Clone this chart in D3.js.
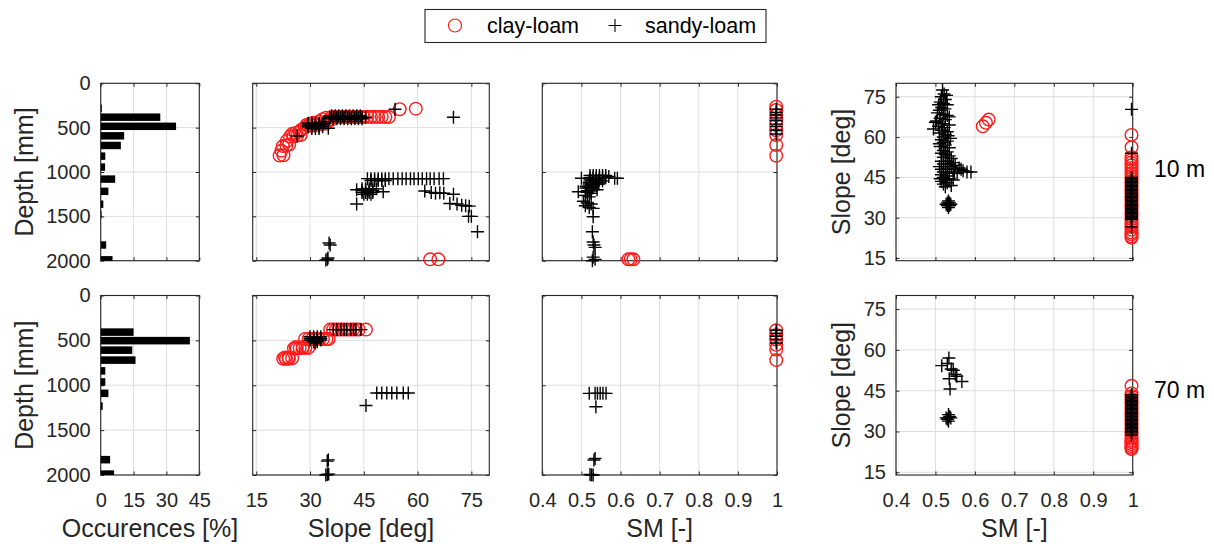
<!DOCTYPE html>
<html>
<head>
<meta charset="utf-8">
<script src="https://cdn.jsdelivr.net/npm/d3@7"></script>
<style>
  body { margin: 0; background: #fff; }
  svg { display: block; font-family: "Liberation Sans", Arial, Helvetica, sans-serif; }
</style>
</head>
<body>
<svg id="chart"></svg>
<script>
// ---- data ----
// histogram of depth occurrences [%], one row per resolution
const histDepth10 = [282, 382, 485, 592, 701, 821, 945, 1080, 1218, 1363, 1483, 1823, 1990];
const histOcc10   = [0.5, 27.2, 34.4, 10.7, 9.2, 2.1, 2.0, 6.6, 3.5, 1.2, 0.4, 2.5, 5.4];
const histDepth70 = [408, 503, 609, 720, 840, 963, 1090, 1232, 1829, 1990];
const histOcc70   = [15, 40.7, 14.4, 15.9, 2.1, 2.1, 3.5, 0.9, 4.3, 6.1];

// slope [deg] vs depth [mm]
const slopeDepthClay10 = [[21.5,815],[22.6,812],[22,760],[22.4,708],[23.4,700],[24.2,690],[23.5,650],[24.4,602],[25.4,596],[26.4,590],[27.4,584],[25,570],[26,560],[27,545],[27.5,525],[28.5,500],[29.5,482],[30.5,476],[31.5,470],[33,462],[34.5,455],
  [29,470],[30,455],[31,445],[32.5,432],[33.5,405],[34.5,388],[35,420],[36,410],[36,380],[37,380],[38,380],[39,380],[40,380],[41,380],[42,380],[43,380],[44,380],[45,380],[46,378],[47,380],[48,378],[49,380],[50,378],[51,380],[52,380],[55,292],[59.5,286],[63.5,1985],[65.8,1985]];
const slopeDepthSandy10 = [[26.4,594],[29.5,450],[30.5,450],[31.5,450],[32.5,450],[33.5,450],[29.5,470],[30.5,470],[31.5,470],[32.5,470],[33.5,470],[29.5,490],[30.5,490],[31.5,490],[32.5,490],[33.5,490],[30.5,510],[31.5,510],[32.5,510],[35.1,507],[34,430],
  [35.5,400],[36.5,400],[37.5,400],[38.5,400],[39.5,400],[40.5,400],[41.5,400],[42.5,400],[43.5,400],[44.5,400],
  [35.5,382],[36.5,382],[37.5,382],[38.5,382],[39.5,382],[40.5,382],[41.5,382],[42.5,382],[43.5,382],[44.5,382],
  [36,365],[37,365],[38,365],[39,365],[40,365],[41,365],[42,365],[43,365],[44,365],[45.5,385],
  [53.7,293],[70,383],
  [46,1075],[47,1075],[48,1075],[49,1075],[50,1075],[51,1075],[52,1075],[53.2,1075],[54.5,1075],[55.7,1075],[56.8,1075],[58,1075],[59,1075],[60.2,1075],[61.3,1075],[62.5,1075],[63.5,1075],[64.6,1075],[66,1075],[67.2,1075],
  [47,1095],[48,1095],[49,1095],[50,1095],[51,1095],
  [43,1200],[44.5,1190],[45.5,1190],[46.5,1190],[47.5,1190],[48.5,1190],[44.5,1210],[45.5,1210],[46.5,1210],[47.5,1210],[44.5,1230],[45.5,1230],[46.5,1230],[47.5,1230],[45,1250],[46,1250],[47,1250],[50.4,1222],
  [43,1361],[62,1215],[63.8,1230],[65,1240],[66.2,1235],[67.3,1240],[70,1250],
  [69,1355],[71,1360],[72.3,1375],[73.4,1380],[74.4,1385],[74.2,1500],[75,1500],[76.7,1673],
  [35.6,1823],[35.3,1800],[34.4,1993],[34.8,1985],[35,1970]];
const slopeDepthClay70 = [[22.5,704],[23.3,704],[24.1,704],[25,700],[23,690],[24,690],[25.5,590],[26.3,590],[27.1,585],[27.9,585],[28.7,584],[29.5,584],[26,575],[28,575],
  [28.6,484],[29.6,484],[30.6,484],[31.6,484],[32.6,484],[33.6,484],[34.6,484],[35.2,484],
  [35.6,380],[36.4,380],[37.2,380],[38,380],[38.8,380],[39.6,380],[40.4,380],[41.2,380],[42,380],[42.8,380],[43.6,380],[45.6,380]];
const slopeDepthSandy70 = [[30,460],[31,460],[32,460],[33,460],[30,478],[31,478],[32,478],[33,478],[30,496],[31,496],[32,496],[33,496],[31,515],[32,515],[31.5,530],
  [36.5,380],[37.5,380],[38.6,380],[39.5,380],[40.2,380],[41.4,380],[42.2,380],[42.8,380],[44.2,380],
  [48.6,1087],[50,1087],[51.4,1087],[52.8,1087],[54.2,1087],[56,1087],[57.4,1087],
  [45.6,1226],[35.1,1832],[34.8,1845],[34.4,2000],[34.8,1995],[35.2,1990]];

// SM [-] vs depth [mm]
const smDepthClay10 = [[0.998,264],[0.998,300],[0.998,357],[0.998,420],[0.998,470],[0.998,530],[0.998,583],[0.998,695],[0.998,816],[0.62,1985],[0.626,1985],[0.633,1985]];
const smDepthSandy10 = [[0.998,293],[0.998,330],[0.998,357],[0.998,390],[0.998,421],[0.998,460],[0.998,489],[0.998,530],[0.998,571],
  [0.522,1040],[0.53,1040],[0.538,1040],[0.546,1040],[0.554,1040],[0.562,1040],[0.57,1050],[0.585,1070],[0.592,1070],[0.5,1071],
  [0.522,1065],[0.53,1065],[0.538,1065],[0.546,1065],[0.554,1065],[0.562,1065],
  [0.522,1090],[0.53,1090],[0.538,1090],[0.546,1090],[0.554,1100],[0.52,1115],[0.528,1115],[0.536,1115],[0.544,1115],
  [0.52,1135],[0.528,1135],[0.536,1135],[0.544,1135],
  [0.492,1222],[0.512,1160],[0.52,1160],[0.528,1160],[0.512,1180],[0.52,1180],[0.528,1180],[0.54,1200],[0.515,1210],[0.525,1215],[0.515,1230],[0.525,1240],[0.51,1265],[0.52,1280],
  [0.505,1330],[0.515,1350],[0.525,1360],[0.51,1380],[0.52,1400],[0.53,1410],[0.53,1504],[0.528,1673],
  [0.53,1790],[0.532,1823],[0.535,1850],[0.53,1960],[0.535,1985],[0.528,2000]];
const smDepthClay70 = [[0.998,387],[0.998,440],[0.998,490],[0.998,550],[0.998,601],[0.998,720]];
const smDepthSandy70 = [[0.998,387],[0.998,420],[0.998,454],[0.998,490],[0.998,530],
  [0.52,1090],[0.535,1090],[0.541,1090],[0.548,1090],[0.555,1090],[0.563,1090],[0.537,1240],
  [0.532,1833],[0.535,1815],[0.526,2000],[0.53,2000],[0.522,1995]];

// slope [deg] vs SM [-]
const smSlopeClay10 = [[0.62,64],[0.628,65.3],[0.635,66.5],
  [0.997,60.8],[0.997,56.2],[0.997,52.5],[0.997,51.5],[0.997,50.5],[0.997,49.5],[0.997,48.5],[0.997,47.5],[0.997,46.5],[0.997,45.5],[0.997,44.5],[0.997,43.5],[0.997,42.5],[0.997,41.5],[0.997,40.5],[0.997,39.5],[0.997,38.5],[0.997,37.5],[0.997,36.5],[0.997,35.5],[0.997,34.5],[0.997,33.5],[0.997,32.5],[0.997,31.5],[0.997,30.5],[0.997,29.5],[0.997,28.5],[0.997,27.5],[0.997,26.5],[0.997,25.5],[0.997,24.5],[0.997,23.8],[0.997,23],[0.997,22.5]];
const smSlopeSandy10 = [[0.997,70.3],[0.997,54],
  [0.997,45],[0.997,44.5],[0.997,44],[0.997,43.5],[0.997,43],[0.997,42.5],[0.997,42],[0.997,41.5],[0.997,41],[0.997,40.5],[0.997,40],[0.997,39.5],[0.997,39],[0.997,38.5],[0.997,38],[0.997,37.5],[0.997,37],[0.997,36.5],[0.997,36],[0.997,35.5],[0.997,35],[0.997,34.5],[0.997,34],[0.997,33.5],[0.997,33],[0.997,32.5],[0.997,32],[0.997,31.5],[0.997,31],[0.997,30.5],[0.997,30],[0.997,29.5],[0.997,29.3],[0.997,26.6],
  [0.518,77.5],[0.522,76],[0.515,75],[0.525,74],[0.512,73],[0.52,72.5],[0.53,72],[0.516,71],[0.524,70.5],[0.51,70],[0.528,75.5],[0.508,72],
  [0.505,69],[0.52,68.5],[0.53,68],[0.512,67],[0.525,66.5],[0.5,65.5],[0.518,65],[0.535,64.5],[0.508,64],[0.522,63.5],[0.495,63],[0.515,62.5],[0.53,62],[0.51,61.5],[0.525,61],[0.52,60],[0.535,67.5],[0.503,66],[0.532,60.5],
  [0.515,59],[0.53,58.5],[0.52,58],[0.525,57],[0.512,56.5],[0.535,56],[0.52,55],[0.53,54.5],[0.515,54],[0.525,53.5],[0.535,53],[0.52,52.5],[0.54,52],[0.51,57.5],[0.538,59.5],
  [0.515,51],[0.53,51],[0.545,50.5],[0.52,50],[0.535,50],[0.55,49.5],[0.51,49],[0.525,49],[0.54,49],[0.56,48.5],[0.515,48],[0.53,48],[0.545,48],[0.57,47.5],[0.59,47],[0.58,47],[0.52,47],[0.535,46.5],[0.555,46.5],[0.515,46],[0.53,45.5],[0.565,48],[0.548,47],
  [0.52,45],[0.535,44.5],[0.525,44],[0.515,43.5],[0.53,43],[0.52,42.5],[0.54,42],[0.525,41.5],[0.512,44.5],[0.545,44],
  [0.527,35],[0.533,35],[0.539,35],[0.533,33.8],[0.533,36.2],[0.53,34.5],[0.536,35.5],[0.53,35.5],[0.536,34.5]];
const smSlopeClay70 = [[0.997,46.8],[0.997,44],[0.997,43],[0.997,42],[0.997,41],[0.997,40],[0.997,39],[0.997,38],[0.997,37],[0.997,36],[0.997,35],[0.997,34],[0.997,33],[0.997,32],[0.997,31],[0.997,30],[0.997,29],[0.997,28],[0.997,27.3],[0.997,26.6],[0.997,26],[0.997,25.3],[0.997,24.6],[0.997,24],[0.997,23.5]];
const smSlopeSandy70 = [[0.997,43.5],[0.997,43],[0.997,42.5],[0.997,42],[0.997,41.5],[0.997,41],[0.997,40.5],[0.997,40],[0.997,39.5],[0.997,39],[0.997,38.5],[0.997,38],[0.997,37.5],[0.997,37],[0.997,36.5],[0.997,36],[0.997,35.5],[0.997,35],[0.997,34.5],[0.997,34],[0.997,33.5],[0.997,33],[0.997,32.5],[0.997,32],[0.997,31.5],[0.997,31],[0.997,30.5],[0.997,30],[0.997,29.5],[0.997,28.7],
  [0.534,57],[0.516,54.2],[0.545,52.5],[0.554,50.3],[0.535,49.4],[0.567,48.4],[0.537,45.6],[0.53,55],[0.55,51],[0.54,53],
  [0.527,35],[0.533,35],[0.539,35],[0.533,33.8],[0.533,36.2],[0.53,34.5],[0.536,35.5]];

// axis ticks
const depthTicks = [0, 500, 1000, 1500, 2000];
const depthTicksSM = [0, 1000, 2000];
const occTicks = [0, 15, 30, 45];
const slopeTicks = [15, 30, 45, 60, 75];
const smTicks = [0.4, 0.5, 0.6, 0.7, 0.8, 0.9, 1];
const seriesNames = ["clay-loam", "sandy-loam"];
const rowLabels = ["10 m", "70 m"];

// ---- layout ----
const width = 1214, height = 544;
const rows = [[83.3, 260.7], [295.5, 475]];
const cols = { hist: [100.7, 199.3], slope: [252.7, 489.3], sm: [542.3, 777], smSlope: [896, 1132.7] };
const textColor = "#262626";
const fontTick = 20, fontLabel = 25;

const svg = d3.select("#chart").attr("width", width).attr("height", height);

const fmtSM = d => d === 1 ? "1" : d3.format(".1f")(d);
const plusPath = "M-6.5,0H6.5M0,-6.5V6.5";

// build one box-style axes with grid and inner ticks
function makeAxes(col, row, xDomain, yDomain, xTicks, yTicks, showX, showY, xFmt) {
  const [x0, x1] = col, [y0, y1] = row;
  const x = d3.scaleLinear().domain(xDomain).range([x0, x1]);
  const y = d3.scaleLinear().domain(yDomain).range([y0, y1]);
  const g = svg.append("g");

  // grid
  g.append("g").selectAll("line").data(xTicks).join("line")
    .attr("x1", d => x(d)).attr("x2", d => x(d)).attr("y1", y0).attr("y2", y1)
    .attr("stroke", "#dedede").attr("stroke-width", 1);
  g.append("g").selectAll("line").data(yTicks).join("line")
    .attr("y1", d => y(d)).attr("y2", d => y(d)).attr("x1", x0).attr("x2", x1)
    .attr("stroke", "#dedede").attr("stroke-width", 1);

  // axes with inward ticks
  const ax = [
    [d3.axisBottom(x).tickValues(xTicks).tickFormat(showX ? xFmt : () => ""), `translate(0,${y1})`, 18],
    [d3.axisTop(x).tickValues(xTicks).tickFormat(() => ""), `translate(0,${y0})`, 0],
    [d3.axisLeft(y).tickValues(yTicks).tickFormat(showY ? d3.format("d") : () => ""), `translate(${x0},0)`, 10],
    [d3.axisRight(y).tickValues(yTicks).tickFormat(() => ""), `translate(${x1},0)`, 0]
  ];
  ax.forEach(([a, tr, pad]) => {
    const s = g.append("g").attr("transform", tr)
      .call(a.tickSizeInner(-3.5).tickSizeOuter(0).tickPadding(pad));
    s.select(".domain").remove();
    s.selectAll("line").attr("stroke", textColor);
    s.selectAll("text").attr("font-size", fontTick).attr("fill", textColor)
      .attr("font-family", "Liberation Sans, Arial, sans-serif");
  });

  g.append("rect").attr("x", x0).attr("y", y0).attr("width", x1 - x0).attr("height", y1 - y0)
    .attr("fill", "none").attr("stroke", textColor).attr("stroke-width", 1.1);
  return { g, x, y };
}

function drawClay(a, data) {
  a.g.append("g").selectAll("circle").data(data).join("circle")
    .attr("cx", d => a.x(d[0])).attr("cy", d => a.y(d[1])).attr("r", 6.3)
    .attr("fill", "none").attr("stroke", "#ff1a1a").attr("stroke-width", 1.4);
}
function drawSandy(a, data) {
  a.g.append("g").selectAll("path").data(data).join("path")
    .attr("d", plusPath).attr("transform", d => `translate(${a.x(d[0])},${a.y(d[1])})`)
    .attr("fill", "none").attr("stroke", "#000").attr("stroke-width", 1.4);
}

const histData = [[histDepth10, histOcc10], [histDepth70, histOcc70]];
const slopeData = [[slopeDepthClay10, slopeDepthSandy10], [slopeDepthClay70, slopeDepthSandy70]];
const smData = [[smDepthClay10, smDepthSandy10], [smDepthClay70, smDepthSandy70]];
const smSlopeData = [[smSlopeClay10, smSlopeSandy10], [smSlopeClay70, smSlopeSandy70]];

rows.forEach((row, i) => {
  const bottom = i === 1;

  // histogram
  const h = makeAxes(cols.hist, row, [0, 45], [0, 2000], occTicks, depthTicks, bottom, true, d3.format("d"));
  const clipId = "clip" + i;
  svg.append("clipPath").attr("id", clipId).append("rect")
    .attr("x", cols.hist[0]).attr("y", row[0]).attr("width", cols.hist[1] - cols.hist[0]).attr("height", row[1] - row[0]);
  const [depths, occ] = histData[i];
  const barHalf = 42;
  h.g.append("g").attr("clip-path", `url(#${clipId})`).selectAll("rect").data(depths).join("rect")
    .attr("x", h.x(0)).attr("y", d => h.y(d - barHalf))
    .attr("width", (d, k) => h.x(occ[k]) - h.x(0))
    .attr("height", d => h.y(d + barHalf) - h.y(d - barHalf))
    .attr("fill", "#000");

  // slope vs depth
  const s = makeAxes(cols.slope, row, [14, 80], [0, 2000], slopeTicks, depthTicks, bottom, false, d3.format("d"));
  drawClay(s, slopeData[i][0]);
  drawSandy(s, slopeData[i][1]);

  // SM vs depth
  const m = makeAxes(cols.sm, row, [0.4, 1], [0, 2000], smTicks, depthTicksSM, bottom, false, fmtSM);
  drawClay(m, smData[i][0]);
  drawSandy(m, smData[i][1]);

  // slope vs SM
  const q = makeAxes(cols.smSlope, row, [0.4, 1], [80, 14], smTicks, slopeTicks, bottom, true, fmtSM);
  drawClay(q, smSlopeData[i][0]);
  drawSandy(q, smSlopeData[i][1]);

  // axis titles
  const mid = (row[0] + row[1]) / 2;
  svg.append("text").attr("transform", `translate(33,${mid}) rotate(-90)`)
    .attr("text-anchor", "middle").attr("font-size", fontLabel).attr("fill", textColor).text("Depth [mm]");
  svg.append("text").attr("transform", `translate(850,${mid}) rotate(-90)`)
    .attr("text-anchor", "middle").attr("font-size", fontLabel).attr("fill", textColor).text("Slope [deg]");
  svg.append("text").attr("x", 1154).attr("y", i === 0 ? 177 : 398)
    .attr("font-size", 23).attr("fill", "#000").text(rowLabels[i]);
});

// x titles
[["Occurences [%]", cols.hist], ["Slope [deg]", cols.slope], ["SM [-]", cols.sm], ["SM [-]", cols.smSlope]]
  .forEach(([t, c]) => {
    svg.append("text").attr("x", (c[0] + c[1]) / 2).attr("y", 537)
      .attr("text-anchor", "middle").attr("font-size", fontLabel).attr("fill", textColor).text(t);
  });

// legend
const leg = svg.append("g");
leg.append("rect").attr("x", 425).attr("y", 9.5).attr("width", 341).attr("height", 33)
  .attr("fill", "#fff").attr("stroke", textColor).attr("stroke-width", 1.1);
leg.append("circle").attr("cx", 455).attr("cy", 25.5).attr("r", 6.5)
  .attr("fill", "none").attr("stroke", "#ff1a1a").attr("stroke-width", 1.2);
leg.append("text").attr("x", 487).attr("y", 33).attr("font-size", 21.5).attr("fill", "#000").text(seriesNames[0]);
leg.append("path").attr("d", plusPath).attr("transform", "translate(615,25.5)")
  .attr("stroke", "#000").attr("stroke-width", 1.1);
leg.append("text").attr("x", 645).attr("y", 33).attr("font-size", 21.5).attr("fill", "#000").text(seriesNames[1]);
</script>
</body>
</html>
